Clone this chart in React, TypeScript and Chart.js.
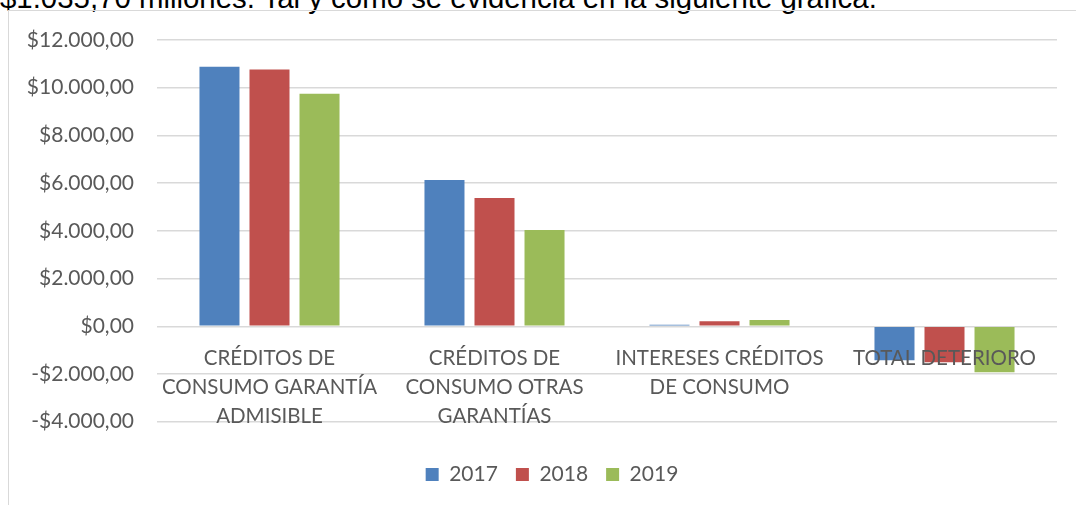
import React, { useEffect, useRef } from "react";
import { Chart, registerables } from "chart.js";

Chart.register(...registerables);

const categories: string[][] = [
  ["CRÉDITOS DE", "CONSUMO GARANTÍA", "ADMISIBLE"],
  ["CRÉDITOS DE", "CONSUMO OTRAS", "GARANTÍAS"],
  ["INTERESES CRÉDITOS", "DE CONSUMO"],
  ["TOTAL DETERIORO"],
];
const seriesNames = ["2017", "2018", "2019"];
const values2017 = [10880, 6130, 60, -1430];
const values2018 = [10760, 5380, 210, -1510];
const values2019 = [9750, 4030, 260, -1930];
const seriesColors = ["#4F81BD", "#C0504D", "#9BBB59"];
const yTickValues = [-4000, -2000, 0, 2000, 4000, 6000, 8000, 10000, 12000];
const headerText = "$1.035,70 millones. Tal y como se evidencia en la siguiente gráfica.";

function formatMoney(v: number): string {
  const abs = Math.abs(v);
  const intPart = Math.floor(abs).toString().replace(/\B(?=(\d{3})+(?!\d))/g, ".");
  return (v < 0 ? "-" : "") + "$" + intPart + ",00";
}

export default function App() {
  const canvasRef = useRef<HTMLCanvasElement | null>(null);

  useEffect(() => {
    if (!canvasRef.current) return;
    const textColor = "#595959";
    const chart = new Chart(canvasRef.current, {
      type: "bar",
      data: {
        labels: categories,
        datasets: [values2017, values2018, values2019].map((d, i) => ({
          label: seriesNames[i],
          data: d,
          backgroundColor: seriesColors[i],
          borderWidth: 0,
          categoryPercentage: 0.667,
          barPercentage: 0.8,
          yAxisID: "y",
        })),
      },
      options: {
        animation: false,
        responsive: true,
        maintainAspectRatio: false,
        layout: { padding: { left: 8, right: 10, top: 29, bottom: 10 } },
        plugins: {
          tooltip: { enabled: false },
          legend: {
            position: "bottom",
            labels: {
              color: textColor,
              font: { family: "Lato", size: 21 },
              boxWidth: 13,
              boxHeight: 13,
              padding: 18,
            },
          },
        },
        scales: {
          x: {
            position: { y: 0 } as any,
            grid: { display: false, drawTicks: false },
            border: { display: false },
            ticks: {
              z: 1,
              color: textColor,
              font: { family: "Lato", size: 20.5, lineHeight: 1.43 },
              padding: 17,
              maxRotation: 0,
              autoSkip: false,
            },
          },
          y: {
            position: "left",
            min: -5020,
            max: 12000,
            grid: {
              color: "#d9d9d9",
              lineWidth: 1.5,
              drawTicks: true,
              tickLength: 20,
              tickColor: "rgba(0,0,0,0)",
            },
            border: { display: false },
            afterBuildTicks: (scale: any) => {
              scale.ticks = yTickValues.map((v) => ({ value: v }));
            },
            afterFit: (scale: any) => {
              scale.width = 140;
            },
            ticks: {
              color: textColor,
              font: { family: "Lato", size: 21 },
              padding: 3,
              callback: (v: any) => formatMoney(Number(v)),
            },
          },
          spacer: {
            type: "linear",
            position: "right",
            display: true,
            grid: { display: false, drawTicks: false },
            border: { display: false },
            ticks: { display: false },
            afterFit: (scale: any) => {
              scale.width = 30;
            },
          },
        },
      },
    });
    return () => chart.destroy();
  }, []);

  return (
    <div
      style={{
        position: "fixed",
        left: 0,
        top: 0,
        width: 1076,
        height: 505,
        overflow: "hidden",
        background: "#ffffff",
      }}
    >
      <div
        style={{
          position: "absolute",
          left: 0,
          top: -17,
          fontFamily: "'Liberation Sans', Arial, sans-serif",
          fontSize: 29.4,
          lineHeight: "29px",
          whiteSpace: "nowrap",
          color: "#000",
        }}
      >
        {headerText}
      </div>
      <div
        style={{
          position: "absolute",
          left: 8,
          top: 10,
          width: 1200,
          height: 600,
          border: "1px solid #d9d9d9",
        }}
      >
        <div style={{ position: "relative", width: 1088, height: 494 }}>
          <canvas ref={canvasRef} style={{ display: "block" }} />
        </div>
      </div>
    </div>
  );
}
